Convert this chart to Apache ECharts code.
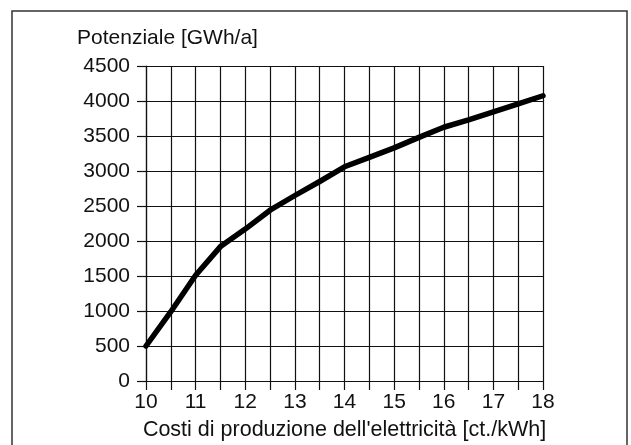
<!DOCTYPE html>
<html>
<head>
<meta charset="utf-8">
<script src="https://cdn.jsdelivr.net/npm/echarts@6/dist/echarts.min.js"></script>
<style>
html,body{margin:0;padding:0;background:#fff;}
#c{width:631px;height:445px;}
</style>
</head>
<body>
<div id="c"></div>
<script>
const costs = [10, 10.5, 11, 11.5, 12, 12.5, 13, 13.5, 14, 14.5, 15, 15.5, 16, 16.5, 17, 17.5, 18];
const potential = [500, 990, 1510, 1920, 2170, 2440, 2650, 2850, 3060, 3195, 3330, 3480, 3625, 3730, 3845, 3960, 4075];
const yTitle = 'Potenziale [GWh/a]';
const xTitle = "Costi di produzione dell'elettricità [ct./kWh]";

const FONT = 'Liberation Sans';
const chart = echarts.init(document.getElementById('c'), null, {renderer: 'canvas'});
const gridStyle = {color: '#111', width: 1.2};
chart.setOption({
  animation: false,
  backgroundColor: '#fff',
  grid: {left: 146, top: 66, right: 88, bottom: 64, containLabel: false, outerBoundsMode: 'none'},
  graphic: [
    {type: 'rect', shape: {x: 12, y: 11, width: 615, height: 500}, style: {fill: 'none', stroke: '#333', lineWidth: 1.5}},
    {type: 'text', left: 77, top: 28, style: {text: yTitle, font: '21px "' + FONT + '"', fill: '#111'}}
  ],
  xAxis: {
    type: 'value', min: 10, max: 18, interval: 0.5,
    name: xTitle, nameLocation: 'middle', nameGap: 38,
    nameTextStyle: {fontFamily: FONT, fontSize: 21.5, color: '#111'},
    axisLine: {show: true, lineStyle: gridStyle},
    axisTick: {show: true, length: 9, lineStyle: gridStyle},
    splitLine: {show: true, lineStyle: gridStyle},
    axisLabel: {fontFamily: FONT, fontSize: 21, color: '#111', margin: 11,
      formatter: v => Number.isInteger(v) ? String(v) : ''}
  },
  yAxis: {
    type: 'value', min: 0, max: 4500, interval: 500,
    axisLine: {show: true, lineStyle: gridStyle},
    axisTick: {show: true, length: 9, lineStyle: gridStyle},
    splitLine: {show: true, lineStyle: gridStyle},
    axisLabel: {fontFamily: FONT, fontSize: 21, color: '#111', margin: 16,
      formatter: v => String(v)}
  },
  series: [{
    type: 'line',
    data: costs.map((c, i) => [c, potential[i]]),
    showSymbol: false,
    lineStyle: {color: '#000', width: 5.5, cap: 'round', join: 'round'}
  }]
});
</script>
</body>
</html>
